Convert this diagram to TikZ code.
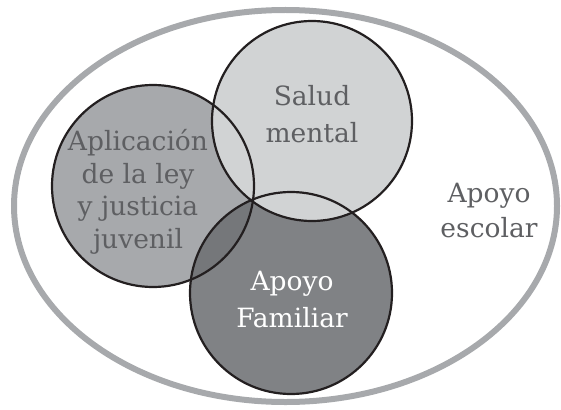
\documentclass[tikz,border=0pt]{standalone}
\usepackage{fontspec}
\setmainfont{DejaVu Serif}
\definecolor{ringgray}{HTML}{A7A9AC}
\definecolor{salfill}{HTML}{D1D3D4}
\definecolor{aplfill}{HTML}{A7A9AC}
\definecolor{famfill}{HTML}{808285}
\definecolor{lensfill}{HTML}{75777A}
\definecolor{txtgray}{HTML}{5E5F62}
\definecolor{outline}{HTML}{231F20}
\begin{document}
\begin{tikzpicture}[x=1pt, y=-1pt,
    outer/.style={draw=ringgray, line width=6pt},
    rim/.style={draw=outline, line width=2.2pt},
    lbl/.style={align=center, text=txtgray, font=\fontsize{26.5}{37}\selectfont}]
    \useasboundingbox (0,0) rectangle (561,409);
    \coordinate (apl) at (153,186);
    \coordinate (sal) at (312,121);
    \coordinate (fam) at (291,293);
    \draw[outer] (285.5,206) ellipse [x radius=271.5, y radius=196];
    \fill[aplfill] (apl) circle [radius=101];
    \fill[famfill] (fam) circle [radius=101];
    \begin{scope}
      \clip (apl) circle [radius=101];
      \fill[lensfill] (fam) circle [radius=101];
    \end{scope}
    \fill[salfill] (sal) circle [radius=100];
    \draw[rim] (apl) circle [radius=101];
    \draw[rim] (fam) circle [radius=101];
    \draw[rim] (sal) circle [radius=100];
    \node[lbl] (salud) at (312,114) {Salud\\mental};
    \node[lbl, font=\fontsize{26.5}{32.5}\selectfont] (aplic) at (138,192) {Aplicación\\de la ley\\y justicia\\juvenil};
    \node[lbl, text=white] (famil) at (292,300) {Apoyo\\Familiar};
    \node[lbl, font=\fontsize{26.5}{35}\selectfont] (escol) at (489,211) {Apoyo\\escolar};
\end{tikzpicture}
\end{document}
